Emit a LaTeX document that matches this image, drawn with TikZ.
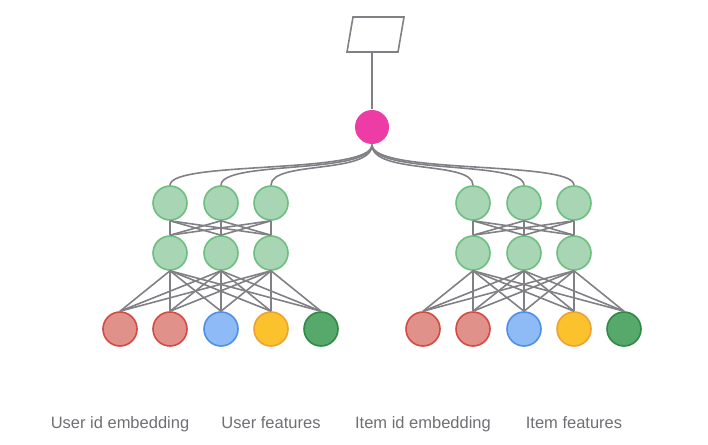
\documentclass[tikz,border=0pt]{standalone}
\usepackage{fontspec}
\setmainfont{Liberation Sans}
\definecolor{edge}{HTML}{808085}
\definecolor{lgfill}{HTML}{A8D5B3}\definecolor{lgdraw}{HTML}{6CBF7F}
\definecolor{rdfill}{HTML}{E0918A}\definecolor{rddraw}{HTML}{D64A44}
\definecolor{blfill}{HTML}{8EBBF5}\definecolor{bldraw}{HTML}{4F8FE8}
\definecolor{ylfill}{HTML}{FBC22E}\definecolor{yldraw}{HTML}{EEA230}
\definecolor{dgfill}{HTML}{57A86B}\definecolor{dgdraw}{HTML}{2E8B46}
\definecolor{pink}{HTML}{EE3CA6}
\definecolor{txt}{HTML}{6F6F74}
\begin{document}
\begin{tikzpicture}[x=1pt,y=-1pt,line width=1.6pt]
  \def\r{34pt}

\tikzstyle{unit}=[circle,minimum size=\r,inner sep=0pt,line width=1.6pt]
\tikzstyle{hidden}=[unit,fill=lgfill,draw=lgdraw]
\tikzstyle{lbl}=[text=txt,anchor=base,font=\fontsize{16.5}{18}\selectfont]
\useasboundingbox (0,0) rectangle (708,444);
% output
\draw[edge] (353,17) -- (404,17) -- (398,52) -- (347,52) -- cycle;
\coordinate (out) at (372,52);
\node[unit,fill=pink] (top) at (372,127) {};
\draw[edge] (top) -- (out);
% two towers
\foreach \t/\ox in {U/0,I/303}{
  \foreach \i/\x in {1/170,2/221,3/271}{
    \node[hidden] (\t a\i) at (\x+\ox,203) {};
    \node[hidden] (\t b\i) at (\x+\ox,253) {};
  }
  \node[unit,fill=rdfill,draw=rddraw] (\t c1) at (120+\ox,329) {};
  \node[unit,fill=rdfill,draw=rddraw] (\t c2) at (170+\ox,329) {};
  \node[unit,fill=blfill,draw=bldraw] (\t c3) at (221+\ox,329) {};
  \node[unit,fill=ylfill,draw=yldraw] (\t c4) at (271+\ox,329) {};
  \node[unit,fill=dgfill,draw=dgdraw] (\t c5) at (321+\ox,329) {};
  \foreach \i in {1,2,3}{
    \draw[edge] (top.south) .. controls +(0,30) and +(0,-25) .. (\t a\i.north);
    \foreach \j in {1,2,3}
      \draw[edge] (\t a\i.south) -- (\t b\j.north);
    \foreach \j in {1,...,5}
      \draw[edge] (\t b\i.south) -- (\t c\j.north);
  }
}
% labels
\node[lbl] (l1) at (120,428) {User id embedding};
\node[lbl] (l2) at (271,428) {User features};
\node[lbl] (l3) at (423,428) {Item id embedding};
\node[lbl] (l4) at (574,428) {Item features};
\end{tikzpicture}
\end{document}
